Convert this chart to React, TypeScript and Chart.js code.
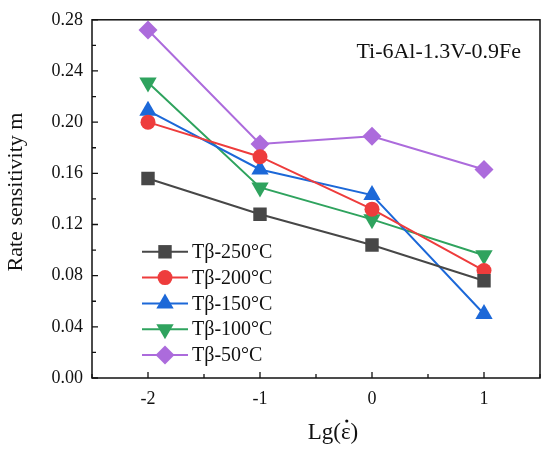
import { useEffect, useRef } from "react";
import Chart from "chart.js/auto";
import { drawPoint } from "chart.js/helpers";

const strainRates = [-2, -1, 0, 1];
const seriesNames = ["Tβ-250°C", "Tβ-200°C", "Tβ-150°C", "Tβ-100°C", "Tβ-50°C"];
const m250 = [0.156, 0.128, 0.104, 0.076];
const m200 = [0.2, 0.173, 0.132, 0.084];
const m150 = [0.209, 0.163, 0.143, 0.05];
const m100 = [0.231, 0.149, 0.124, 0.096];
const m50 = [0.272, 0.183, 0.189, 0.163];
const yTicks = [0, 0.04, 0.08, 0.12, 0.16, 0.2, 0.24, 0.28];
const xTicks = [-2, -1, 0, 1];

const serif = "'Liberation Serif', 'Times New Roman', serif";

const styles = [
  { color: "#474747", point: "rect", radius: 9.5, rotation: 0 },
  { color: "#ee3c3c", point: "circle", radius: 7.5, rotation: 0 },
  { color: "#1c68d8", point: "triangle", radius: 10, rotation: 0 },
  { color: "#2fa35e", point: "triangle", radius: 10, rotation: 180 },
  { color: "#ac6bdc", point: "rectRot", radius: 9.5, rotation: 0 },
];

const frame = {
  id: "frame",
  afterDraw(chart: any) {
    const { ctx, chartArea: a } = chart;
    const xs = chart.scales.x;
    const ys = chart.scales.y;
    ctx.save();
    ctx.strokeStyle = "#111";
    ctx.lineWidth = 1.5;
    ctx.strokeRect(a.left, a.top, a.right - a.left, a.bottom - a.top);
    ctx.lineWidth = 1.3;
    ctx.beginPath();
    for (let v = -2.5; v <= 1.5001; v += 0.5) {
      const px = xs.getPixelForValue(v);
      const len = Math.abs(v % 1) < 1e-6 ? 6 : 4;
      ctx.moveTo(px, a.bottom);
      ctx.lineTo(px, a.bottom - len);
    }
    for (let i = 0; i <= 14; i++) {
      const v = i * 0.02;
      const py = ys.getPixelForValue(v);
      const len = i % 2 === 0 ? 6 : 4;
      ctx.moveTo(a.left, py);
      ctx.lineTo(a.left + len, py);
    }
    ctx.stroke();

    // annotation
    ctx.fillStyle = "#111";
    ctx.font = `22px ${serif}`;
    ctx.textAlign = "right";
    ctx.textBaseline = "middle";
    ctx.fillText("Ti-6Al-1.3V-0.9Fe", a.right - 19, a.top + 32);

    // x title, dot over epsilon drawn by hand
    ctx.font = `23px ${serif}`;
    ctx.textAlign = "left";
    const pre = "Lg(";
    const full = "Lg(ε)";
    const tx = 333 - ctx.measureText(full).width / 2;
    ctx.fillText(full, tx, 433);
    const ex = tx + ctx.measureText(pre).width + ctx.measureText("ε").width / 2;
    ctx.beginPath();
    ctx.arc(ex + 1, 421, 1.6, 0, Math.PI * 2);
    ctx.fill();

    // y title
    ctx.font = `22px ${serif}`;
    ctx.textAlign = "center";
    ctx.save();
    ctx.translate(16, 192);
    ctx.rotate(-Math.PI / 2);
    ctx.fillText("Rate sensitivity m", 0, 0);
    ctx.restore();

    // legend
    ctx.font = `20px ${serif}`;
    ctx.textAlign = "left";
    chart.data.datasets.forEach((ds: any, i: number) => {
      const y = a.top + 232 + i * 25.8;
      const x0 = a.left + 50;
      ctx.strokeStyle = ds.borderColor;
      ctx.lineWidth = 2;
      ctx.beginPath();
      ctx.moveTo(x0, y);
      ctx.lineTo(x0 + 46, y);
      ctx.stroke();
      ctx.fillStyle = ds.backgroundColor;
      drawPoint(ctx, {
        pointStyle: ds.pointStyle,
        radius: ds.pointRadius,
        rotation: ds.rotation,
        borderWidth: 0,
      }, x0 + 23, y);
      ctx.fillStyle = "#111";
      ctx.fillText(ds.label, x0 + 50, y + 1);
    });
    ctx.restore();
  },
};

export default function App() {
  const ref = useRef<HTMLCanvasElement>(null);

  useEffect(() => {
    document.body.style.margin = "0";
    const canvas = ref.current;
    if (!canvas) return;
    const all = [m250, m200, m150, m100, m50];
    const chart = new Chart(canvas, {
      type: "line",
      data: {
        datasets: all.map((vals, i) => ({
          label: seriesNames[i],
          data: strainRates.map((x, j) => ({ x, y: vals[j] })),
          borderColor: styles[i].color,
          backgroundColor: styles[i].color,
          borderWidth: 2,
          pointStyle: styles[i].point as any,
          pointRadius: styles[i].radius,
          rotation: styles[i].rotation,
          pointBorderWidth: 0,
          tension: 0,
        })),
      },
      options: {
        animation: false,
        responsive: false,
        devicePixelRatio: 1,
        layout: { padding: { top: 16, right: 8, left: 0, bottom: 0 } },
        plugins: { legend: { display: false }, tooltip: { enabled: false } },
        scales: {
          x: {
            type: "linear",
            min: -2.5,
            max: 1.5,
            afterFit: (s: any) => {
              s.height = 73;
            },
            afterBuildTicks: (s: any) => {
              s.ticks = xTicks.map((v) => ({ value: v }));
            },
            grid: { display: false, drawTicks: false },
            border: { display: false },
            ticks: {
              color: "#111",
              padding: 10,
              font: { family: serif, size: 18 },
              callback: (v: any) => String(v),
            },
          },
          y: {
            min: 0,
            max: 0.28,
            afterFit: (s: any) => {
              s.width = 92;
            },
            afterBuildTicks: (s: any) => {
              s.ticks = yTicks.map((v) => ({ value: v }));
            },
            grid: { display: false, drawTicks: false },
            border: { display: false },
            ticks: {
              color: "#111",
              padding: 9,
              font: { family: serif, size: 18 },
              callback: (v: any) => Number(v).toFixed(2),
            },
          },
        },
      },
      plugins: [frame],
    });
    return () => chart.destroy();
  }, []);

  return <canvas ref={ref} width={550} height={451} style={{ display: "block" }} />;
}
